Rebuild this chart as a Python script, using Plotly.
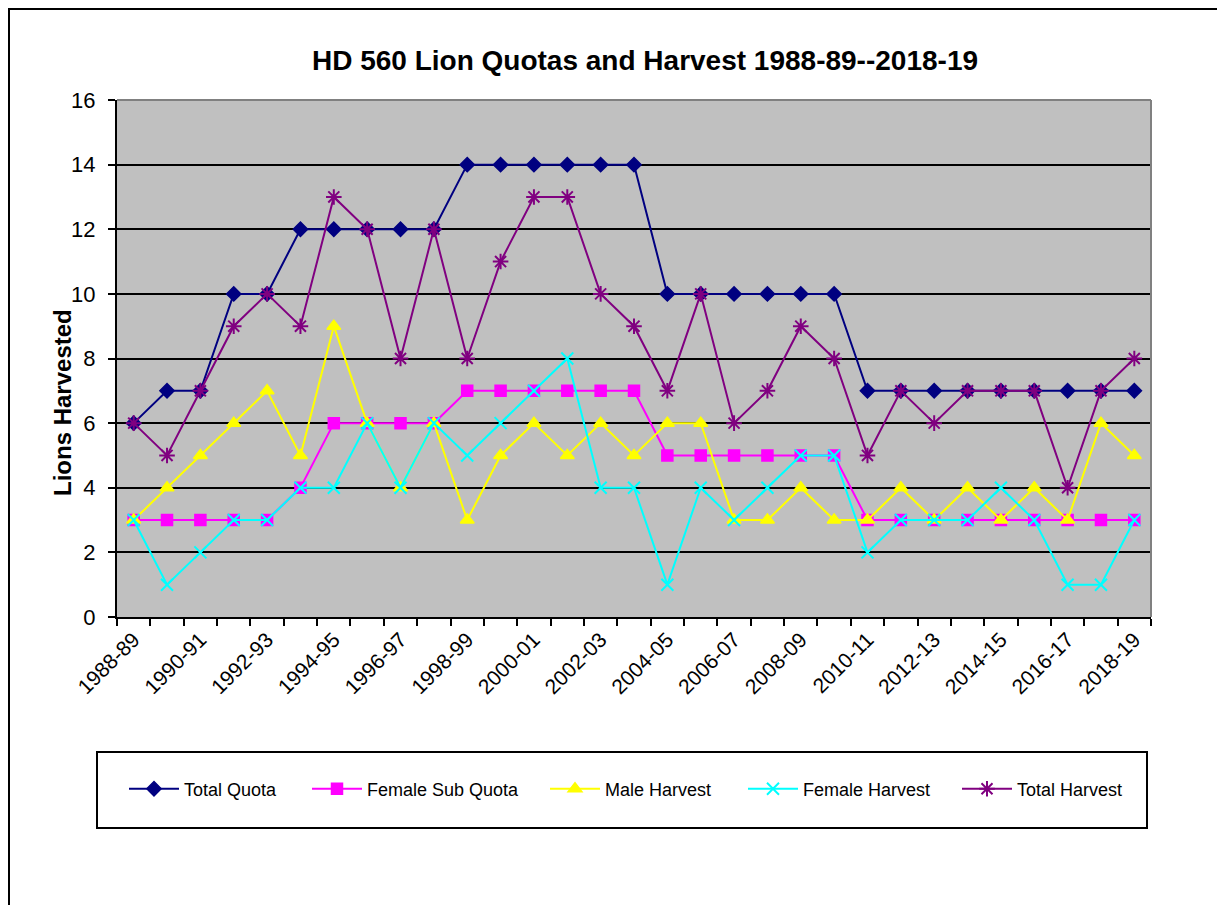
import plotly.graph_objects as go

seasons = ["1988-89", "1989-90", "1990-91", "1991-92", "1992-93", "1993-94", "1994-95",
           "1995-96", "1996-97", "1997-98", "1998-99", "1999-00", "2000-01", "2001-02",
           "2002-03", "2003-04", "2004-05", "2005-06", "2006-07", "2007-08", "2008-09",
           "2009-10", "2010-11", "2011-12", "2012-13", "2013-14", "2014-15", "2015-16",
           "2016-17", "2017-18", "2018-19"]

total_quota = [6, 7, 7, 10, 10, 12, 12, 12, 12, 12, 14, 14, 14, 14, 14, 14, 10, 10, 10, 10,
               10, 10, 7, 7, 7, 7, 7, 7, 7, 7, 7]
female_sub_quota = [3, 3, 3, 3, 3, 4, 6, 6, 6, 6, 7, 7, 7, 7, 7, 7, 5, 5, 5, 5,
                    5, 5, 3, 3, 3, 3, 3, 3, 3, 3, 3]
male_harvest = [3, 4, 5, 6, 7, 5, 9, 6, 4, 6, 3, 5, 6, 5, 6, 5, 6, 6, 3, 3,
                4, 3, 3, 4, 3, 4, 3, 4, 3, 6, 5]
female_harvest = [3, 1, 2, 3, 3, 4, 4, 6, 4, 6, 5, 6, 7, 8, 4, 4, 1, 4, 3, 4,
                  5, 5, 2, 3, 3, 3, 4, 3, 1, 1, 3]
total_harvest = [6, 5, 7, 9, 10, 9, 13, 12, 8, 12, 8, 11, 13, 13, 10, 9, 7, 10, 6, 7,
                 9, 8, 5, 7, 6, 7, 7, 7, 4, 7, 8]

y_ticks = [0, 2, 4, 6, 8, 10, 12, 14, 16]

FONT = "Arial, Liberation Sans, sans-serif"
OFF = 8  # page offset of the plot div
W, H = 1225 - OFF, 905 - OFF
L, R, T, B = 117 - OFF, 1151 - OFF, 100 - OFF, 617 - OFF
pw, ph = R - L, B - T


def px_x(x_page):
    return (x_page - OFF - L) / pw


def px_y(y_page):
    return (B - (y_page - OFF)) / ph


x_idx = list(range(len(seasons)))

series = [
    ("Total Quota", total_quota, "#000080", "diamond", 11, 1.5, 128),
    ("Female Sub Quota", female_sub_quota, "#FF00FF", "square", 11, 1.5, 311),
    ("Male Harvest", male_harvest, "#FFFF00", "triangle-up", 12, 1.5, 549),
    ("Female Harvest", female_harvest, "#00FFFF", "x-thin-open", 12, 2, 747),
    ("Total Harvest", total_harvest, "#800080", "asterisk-open", 13, 2, 961),
]

fig = go.Figure()
legend_layout = {}
for i, (name, vals, color, sym, size, lw, lx) in enumerate(series):
    lname = "legend" if i == 0 else f"legend{i + 1}"
    fig.add_trace(go.Scatter(
        x=x_idx, y=vals, name=name, mode="lines+markers",
        line=dict(color=color, width=2),
        marker=dict(symbol=sym, size=size, color=color, line=dict(color=color, width=lw)),
        hovertext=seasons, legend=lname, showlegend=True,
    ))
    legend_layout[lname] = dict(
        x=px_x(lx - 4), xanchor="left", y=px_y(789), yanchor="middle",
        bgcolor="rgba(0,0,0,0)", borderwidth=0, itemwidth=50,
        font=dict(family=FONT, size=18, color="black"),
    )

shapes = [
    # outer frame
    dict(type="rect", xref="paper", yref="paper", x0=px_x(OFF + 1), x1=px_x(1250),
         y0=px_y(940), y1=px_y(OFF + 1), line=dict(color="black", width=2), layer="below"),
    # legend box
    dict(type="rect", xref="paper", yref="paper", x0=px_x(97), x1=px_x(1147),
         y0=px_y(828), y1=px_y(752), line=dict(color="black", width=2)),
    # plot area top/right border (gray)
    dict(type="line", xref="paper", yref="paper", x0=0, x1=1, y0=1, y1=1,
         line=dict(color="#808080", width=2)),
    dict(type="line", xref="paper", yref="paper", x0=1, x1=1, y0=0, y1=1,
         line=dict(color="#808080", width=2)),
]

annotations = [
    dict(text="<b>Lions Harvested</b>", textangle=-90, xref="paper", yref="paper",
         x=px_x(62), y=px_y(403), xanchor="center", yanchor="middle", showarrow=False,
         font=dict(family=FONT, size=24, color="black")),
]

fig.update_layout(
    width=W, height=H,
    margin=dict(l=L, r=W - R, t=T, b=H - B),
    paper_bgcolor="white", plot_bgcolor="#C0C0C0",
    title=dict(text="<b>HD 560 Lion Quotas and Harvest 1988-89--2018-19</b>",
               xref="paper", x=px_x(645), xanchor="center",
               yref="container", y=1 - (60 - OFF) / H, yanchor="middle",
               font=dict(family=FONT, size=28, color="black")),
    font=dict(family=FONT, color="black"),
    showlegend=True,
    shapes=shapes,
    annotations=annotations,
    **legend_layout,
)

fig.update_xaxes(
    range=[-0.5, len(seasons) - 0.5],
    tickmode="array", tickvals=x_idx[::2], ticktext=seasons[::2],
    tickangle=-45, ticks="", tickfont=dict(family=FONT, size=21, color="black"),
    showgrid=False, zeroline=False,
    showline=True, linecolor="black", linewidth=2,
    minor=dict(ticks="outside", ticklen=7, tickcolor="black", tickwidth=2,
               tick0=-0.5, dtick=1, showgrid=False),
)

fig.update_yaxes(
    range=[0, 16], tickmode="array", tickvals=y_ticks,
    ticks="outside", ticklen=7, tickcolor="black", tickwidth=2,
    ticklabelstandoff=8,
    tickfont=dict(family=FONT, size=22, color="black"),
    showgrid=True, gridcolor="black", gridwidth=1.5,
    zeroline=False, showline=True, linecolor="black", linewidth=2,
)

fig.write_html("out.html")
